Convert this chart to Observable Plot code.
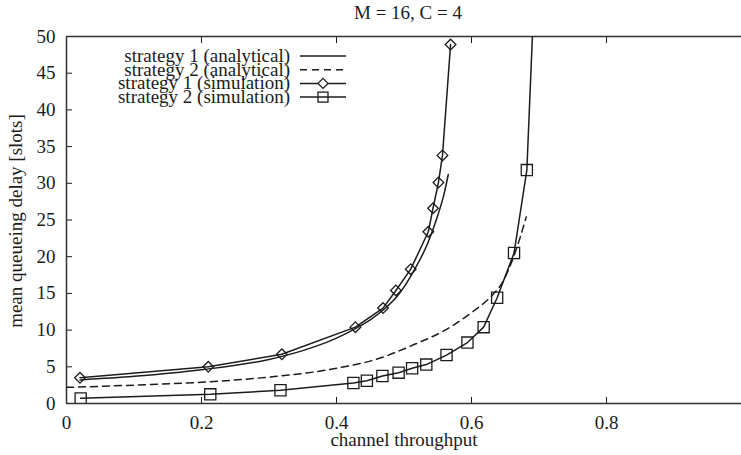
<!DOCTYPE html>
<html>
<head>
<meta charset="utf-8">
<script src="https://cdn.jsdelivr.net/npm/d3@7"></script>
<script src="https://cdn.jsdelivr.net/npm/@observablehq/plot@0.6"></script>
<style>
  html, body { margin: 0; padding: 0; background: #fff; }
  #chart { position: relative; width: 741px; height: 455px; overflow: hidden; }
  #chart svg, #chart svg text { font-family: "Liberation Serif", "Times New Roman", serif !important; }
</style>
</head>
<body>
<div id="chart"></div>
<script>
// ---- data ----
const titleText = "M = 16, C = 4";
const xLabel = "channel throughput";
const yLabel = "mean queueing delay [slots]";
const xTicks = [0, 0.2, 0.4, 0.6, 0.8];
const yTicks = [0, 5, 10, 15, 20, 25, 30, 35, 40, 45, 50];
const seriesNames = [
  "strategy 1 (analytical)",
  "strategy 2 (analytical)",
  "strategy 1 (simulation)",
  "strategy 2 (simulation)"
];

// strategy 1, analytical
const a1X = [0.02, 0.10, 0.20, 0.30, 0.35, 0.40, 0.43, 0.45, 0.47, 0.49, 0.516, 0.535, 0.55, 0.56, 0.5656];
const a1Y = [3.2, 3.7, 4.6, 6.0, 7.2, 8.9, 10.3, 11.4, 12.8, 14.6, 18.3, 21.8, 25.6, 28.8, 31.2];
// strategy 2, analytical
const a2X = [0.0, 0.10, 0.20, 0.30, 0.40, 0.465, 0.514, 0.563, 0.603, 0.627, 0.647, 0.662, 0.672, 0.681];
const a2Y = [2.2, 2.5, 2.9, 3.6, 4.8, 6.2, 8.0, 10.1, 12.6, 14.4, 16.7, 19.9, 22.6, 25.4];
// strategy 1, simulation
const s1X = [0.020, 0.210, 0.319, 0.428, 0.469, 0.488, 0.510, 0.536, 0.543, 0.551, 0.557, 0.569];
const s1Y = [3.5, 5.0, 6.7, 10.4, 13.0, 15.4, 18.3, 23.4, 26.6, 30.1, 33.8, 48.9];
// strategy 2, simulation (last point lies above the plotted range)
const s2X = [0.021, 0.213, 0.317, 0.425, 0.445, 0.468, 0.492, 0.512, 0.533, 0.563, 0.594, 0.618, 0.638, 0.663, 0.682, 0.6925];
const s2Y = [0.7, 1.25, 1.8, 2.8, 3.1, 3.75, 4.2, 4.8, 5.3, 6.6, 8.3, 10.4, 14.4, 20.5, 31.8, 55];

const toRows = (xs, ys) => xs.map((x, i) => ({x, y: ys[i]}));
const a1 = toRows(a1X, a1Y), a2 = toRows(a2X, a2Y), s1 = toRows(s1X, s1Y), s2 = toRows(s2X, s2Y);

const ink = "#1c1c1c";
const font = "'Liberation Serif', 'Times New Roman', serif";

const diamond = {
  draw(context, size) {
    const r = Math.sqrt(size) * 0.75;
    context.moveTo(0, -r); context.lineTo(r, 0); context.lineTo(0, r); context.lineTo(-r, 0); context.closePath();
  }
};

const plot = Plot.plot({
  width: 741,
  height: 455,
  marginTop: 36,
  marginBottom: 52,
  marginLeft: 66,
  marginRight: 0,
  style: {fontFamily: font, fontSize: "19px", color: ink, background: "#fff"},
  x: {domain: [0, 1]},
  y: {domain: [0, 50]},
  marks: [
    Plot.axisX(xTicks, {anchor: "bottom", tickSize: -6, tickPadding: 18, tickFormat: d => String(d), label: xLabel, labelAnchor: "center", labelOffset: 42, labelArrow: "none", fontSize: 19}),
    Plot.axisX(xTicks.slice(1), {anchor: "top", tickSize: -6, tickFormat: () => "", label: null}),
    Plot.axisY(yTicks, {anchor: "left", tickSize: -6, tickPadding: 17, label: null, fontSize: 19}),
    Plot.ruleX([0], {stroke: "#333", strokeWidth: 1.5}),
    Plot.ruleY([0, 50], {stroke: "#333", strokeWidth: 1.5}),
    Plot.line(a2, {x: "x", y: "y", stroke: ink, strokeWidth: 1.5, strokeDasharray: "7,5", curve: "monotone-x", clip: true}),
    Plot.line(a1, {x: "x", y: "y", stroke: ink, strokeWidth: 1.5, curve: "monotone-x", clip: true}),
    Plot.line(s1, {x: "x", y: "y", stroke: ink, strokeWidth: 1.5, clip: true}),
    Plot.line(s2, {x: "x", y: "y", stroke: ink, strokeWidth: 1.5, clip: true}),
    Plot.dot(s1, {x: "x", y: "y", symbol: diamond, r: 4, stroke: ink, strokeWidth: 1.3, fill: "none", clip: true}),
    Plot.dot(s2, {x: "x", y: "y", symbol: "square", r: 6.3, stroke: ink, strokeWidth: 1.3, fill: "none", clip: true})
  ]
});

document.getElementById("chart").appendChild(plot);

// title, y-axis label and legend, appended inside the same SVG
const svg = d3.select(plot);
svg.append("text")
  .attr("x", 408).attr("y", 19)
  .attr("text-anchor", "middle")
  .style("font-size", "19px").attr("fill", ink)
  .text(titleText);

svg.append("text")
  .attr("transform", "translate(22,221) rotate(-90)")
  .attr("text-anchor", "middle")
  .style("font-size", "19px").attr("fill", ink)
  .text(yLabel);

const legend = svg.append("g").attr("transform", "translate(290,56)");
const rowH = 13.7;
seriesNames.forEach((name, i) => {
  const g = legend.append("g").attr("transform", `translate(0,${i * rowH})`);
  g.append("text").attr("x", 0).attr("y", 6).attr("text-anchor", "end")
    .style("font-size", "19px").attr("fill", ink).text(name);
  const line = g.append("line").attr("x1", 10).attr("x2", 56).attr("y1", 0).attr("y2", 0)
    .attr("stroke", ink).attr("stroke-width", 1.5);
  if (i === 1) line.attr("stroke-dasharray", "7,5");
  if (i === 2) g.append("path").attr("d", d3.symbol(diamond, 45)()).attr("transform", "translate(33,0)")
    .attr("fill", "#fff").attr("stroke", ink).attr("stroke-width", 1.3);
  if (i === 3) g.append("rect").attr("x", 28).attr("y", -5).attr("width", 10).attr("height", 10)
    .attr("fill", "none").attr("stroke", ink).attr("stroke-width", 1.3);
});
</script>
</body>
</html>
